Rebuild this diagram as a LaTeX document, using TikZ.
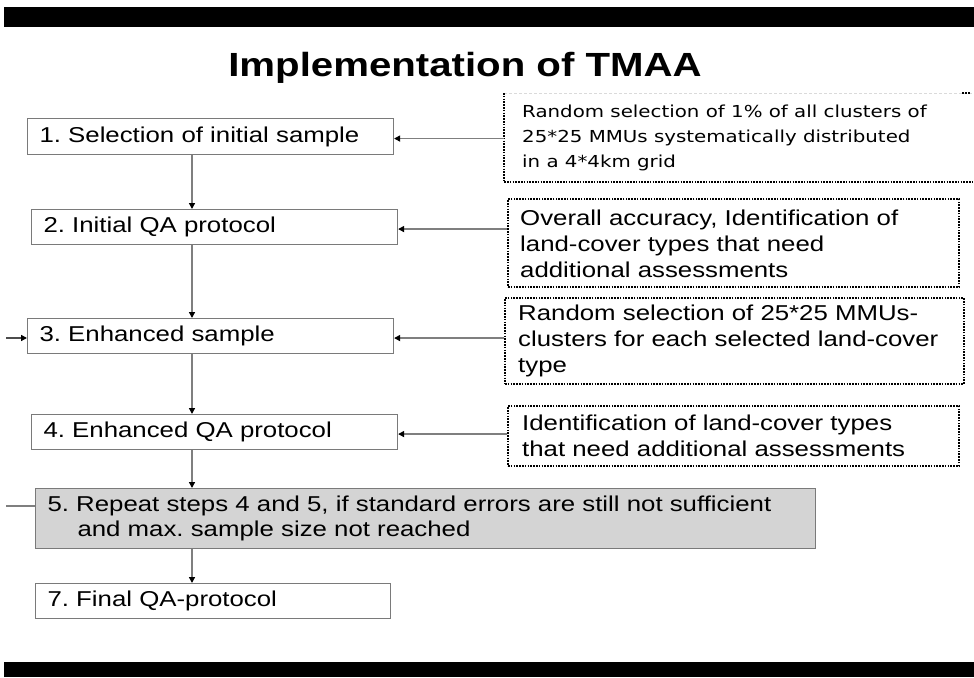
\documentclass[tikz,border=0pt]{standalone}
\usepackage{fontspec}
\setmainfont{Liberation Sans}[FakeStretch=1.2]
\newfontfamily\vfont{DejaVu Sans}[FakeStretch=1.2]
\usetikzlibrary{arrows.meta}
\definecolor{boxgray}{HTML}{7A7A7A}
\definecolor{linegray}{HTML}{7F7F7F}
\definecolor{fillgray}{HTML}{D4D4D4}
\definecolor{faintgray}{HTML}{DADADA}
\tikzset{
  stepbox/.style={draw=boxgray, line width=1.1pt, anchor=north west, inner xsep=12pt, inner ysep=0pt,
    align=left, font=\fontsize{21.5}{25.5}\selectfont},
  dbox/.style={anchor=north west, inner sep=0pt},
  dotline/.style={draw=black, line width=2.1pt, dash pattern=on 1.6pt off 1.2pt},
  faintline/.style={draw=faintgray, line width=1pt, dash pattern=on 3pt off 2pt},
  atext/.style={anchor=west, inner sep=0pt, align=left, font=\fontsize{21.5}{26}\selectfont},
  vtext/.style={anchor=west, inner sep=0pt, align=left, font=\vfont\fontsize{16.5}{25}\selectfont},
  arr/.style={draw=linegray, line width=1.4pt, -{Triangle[length=6pt,width=6pt,color=black]}},
  conn/.style={draw=linegray, line width=1.4pt},
}
\begin{document}
\frenchspacing
\begin{tikzpicture}[x=1pt,y=-1pt]
\useasboundingbox (0,0) rectangle (974,677);
\fill[white] (0,0) rectangle (974,677);
% black bars
\fill[black] (4,7) rectangle (974,27);
\fill[black] (4,662) rectangle (974,677);
% title
\node[font=\fontsize{33.5}{40}\selectfont\bfseries, anchor=base, inner sep=0pt] (title) at (465,77) {Implementation of TMAA};
% step boxes
\node[stepbox, minimum width=366pt, minimum height=36pt, text width=342pt] (s1) at (27,118) {1. Selection of initial sample};
\node[stepbox, minimum width=366pt, minimum height=35pt, text width=342pt] (s2) at (31,209) {2. Initial QA protocol};
\node[stepbox, minimum width=366pt, minimum height=35pt, text width=342pt] (s3) at (27,318) {3. Enhanced sample};
\node[stepbox, minimum width=366pt, minimum height=35pt, text width=342pt] (s4) at (31,414) {4. Enhanced QA protocol};
\node[stepbox, fill=fillgray, minimum width=780pt, minimum height=60pt, text width=756pt] (s5) at (35,488)
  {\mbox{5. Repeat steps 4 and 5, if standard errors are still not sufficient}\\\hspace*{30pt}and max. sample size not reached};
\node[stepbox, minimum width=355pt, minimum height=35pt, text width=331pt] (s7) at (35,583) {7. Final QA-protocol};
% dotted boxes
\node[dbox, minimum width=480pt, minimum height=89pt] (d1) at (504,93) {};
\draw[faintline] (d1.north west) -- (d1.north east);
\draw[dotline] ([xshift=-22pt]d1.north east) -- ([xshift=-14pt]d1.north east);
\draw[dotline] (d1.north west) -- (d1.south west) -- (d1.south east);
\node[dbox, dotline, minimum width=451pt, minimum height=88pt] (d2) at (507,198) {};
\node[dbox, dotline, minimum width=459pt, minimum height=86pt] (d3) at (504,297) {};
\node[dbox, dotline, minimum width=451pt, minimum height=60pt] (d4) at (507,405) {};
% texts in dotted boxes
\node[vtext] (t1) at ([xshift=18pt]d1.west) {Random selection of 1\% of all clusters of\\25*25 MMUs systematically distributed\\in a 4*4km grid};
\node[atext] (t2) at ([xshift=13pt,yshift=-1pt]d2.west) {Overall accuracy, Identification of\\land-cover types that need\\additional assessments};
\node[atext] (t3) at ([xshift=14pt]d3.west) {Random selection of 25*25 MMUs-\\clusters for each selected land-cover\\type};
\node[atext] (t4) at ([xshift=15pt]d4.west) {Identification of land-cover types\\that need additional assessments};
% vertical flow
\coordinate (col) at (192,0);
\draw[arr] (s1.south -| col) -- (s2.north -| col);
\draw[arr] (s2.south -| col) -- (s3.north -| col);
\draw[arr] (s3.south -| col) -- (s4.north -| col);
\draw[arr] (s4.south -| col) -- (s5.north -| col);
\draw[arr] (s5.south -| col) -- (s7.north -| col);
% horizontal inputs
\draw[arr] ([yshift=-2pt]s1.east -| d1.west) -- ([yshift=-2pt]s1.east);
\draw[arr] ([yshift=-2pt]s2.east -| d2.west) -- ([yshift=-2pt]s2.east);
\draw[arr] ([yshift=-2pt]s3.east -| d3.west) -- ([yshift=-2pt]s3.east);
\draw[arr] ([yshift=-2pt]s4.east -| d4.west) -- ([yshift=-2pt]s4.east);
% left inputs
\coordinate (in3) at (6,338);
\draw[arr, draw=black!70] (in3) -- (in3 -| s3.west);
\coordinate (in5) at (6,506);
\draw[conn] (in5) -- (in5 -| s5.west);
\end{tikzpicture}
\end{document}
